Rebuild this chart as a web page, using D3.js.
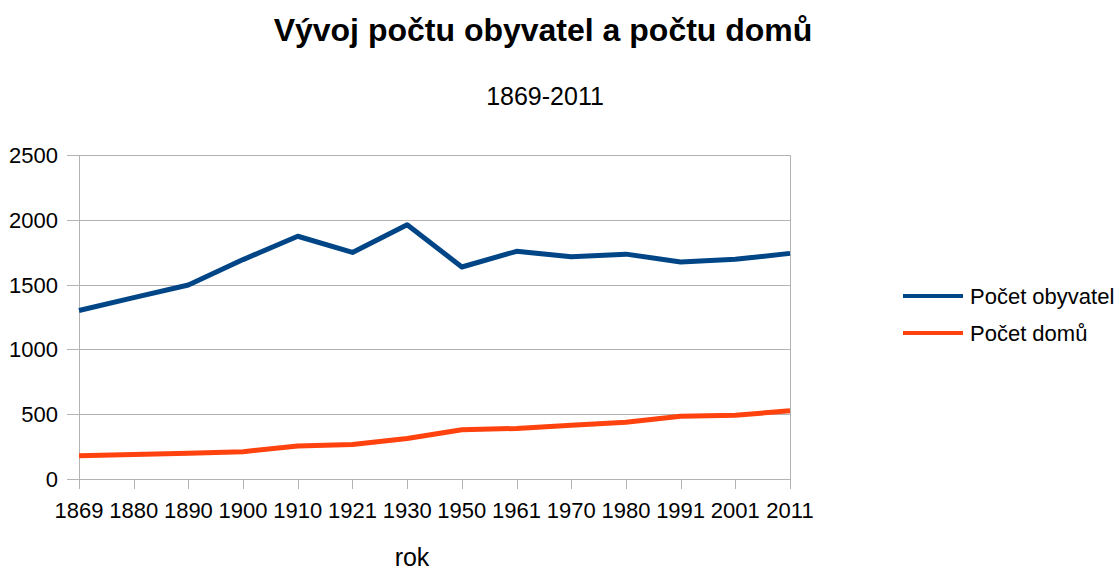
<!DOCTYPE html>
<html>
<head>
<meta charset="utf-8">
<script src="https://cdn.jsdelivr.net/npm/d3@7"></script>
<style>
  body { margin: 0; background: #fff; }
  text { font-family: "Liberation Sans", Arial, sans-serif; fill: #000; }
</style>
</head>
<body>
<div id="chart"></div>
<script>
// data
var years = ['1869', '1880', '1890', '1900', '1910', '1921', '1930', '1950', '1961', '1970', '1980', '1991', '2001', '2011'];
var obyvatel = [1300, 1400, 1497, 1693, 1873, 1748, 1962, 1636, 1757, 1715, 1735, 1675, 1695, 1741];
var domu = [180, 190, 198, 211, 254, 267, 313, 380, 390, 415, 438, 485, 492, 526];
var yTicks = [0, 500, 1000, 1500, 2000, 2500];
var seriesNames = ['Počet obyvatel', 'Počet domů'];
var colors = ['#004586', '#ff420e'];

var width = 1115, height = 572;
var plot = { left: 79, right: 790, top: 155, bottom: 479 };

var svg = d3.select('#chart').append('svg')
  .attr('width', width)
  .attr('height', height);

var x = d3.scalePoint().domain(years).range([plot.left, plot.right]);
var y = d3.scaleLinear().domain([0, 2500]).range([plot.bottom, plot.top]);

// grid lines
svg.append('g').selectAll('line')
  .data(yTicks)
  .enter().append('line')
  .attr('x1', plot.left - 12).attr('x2', plot.right)
  .attr('y1', function (d) { return Math.round(y(d)) + 0.5; })
  .attr('y2', function (d) { return Math.round(y(d)) + 0.5; })
  .attr('stroke', '#b3b3b3').attr('stroke-width', 1);

// x ticks (vertical small lines below axis)
svg.append('g').selectAll('line')
  .data(years)
  .enter().append('line')
  .attr('x1', function (d) { return Math.round(x(d)) + 0.5; })
  .attr('x2', function (d) { return Math.round(x(d)) + 0.5; })
  .attr('y1', plot.bottom).attr('y2', plot.bottom + 10)
  .attr('stroke', '#b3b3b3');

// plot area left/right borders
svg.append('line')
  .attr('x1', plot.left + 0.5).attr('x2', plot.left + 0.5)
  .attr('y1', plot.top).attr('y2', plot.bottom + 10)
  .attr('stroke', '#b3b3b3');
svg.append('line')
  .attr('x1', plot.right + 0.5).attr('x2', plot.right + 0.5)
  .attr('y1', plot.top).attr('y2', plot.bottom + 10)
  .attr('stroke', '#b3b3b3');

// y labels
svg.append('g').selectAll('text')
  .data(yTicks)
  .enter().append('text')
  .attr('x', plot.left - 21)
  .attr('y', function (d) { return y(d) + 8; })
  .attr('text-anchor', 'end')
  .style('font-size', '22px')
  .text(function (d) { return d; });

// x labels
svg.append('g').selectAll('text')
  .data(years)
  .enter().append('text')
  .attr('x', function (d) { return x(d); })
  .attr('y', plot.bottom + 39)
  .attr('text-anchor', 'middle')
  .style('font-size', '22px')
  .text(function (d) { return d; });

// lines
var line = d3.line()
  .x(function (d, i) { return x(years[i]); })
  .y(function (d) { return y(d); });

[obyvatel, domu].forEach(function (vals, i) {
  svg.append('path')
    .datum(vals)
    .attr('fill', 'none')
    .attr('stroke', colors[i])
    .attr('stroke-width', 5)
    .attr('stroke-linejoin', 'round')
    .attr('d', line);
});

// titles
svg.append('text')
  .attr('x', 543).attr('y', 41)
  .attr('text-anchor', 'middle')
  .style('font-size', '32px').style('font-weight', 'bold')
  .text('Vývoj počtu obyvatel a počtu domů');

svg.append('text')
  .attr('x', 545).attr('y', 105)
  .attr('text-anchor', 'middle')
  .style('font-size', '25px')
  .text('1869-2011');

svg.append('text')
  .attr('x', 412).attr('y', 566)
  .attr('text-anchor', 'middle')
  .style('font-size', '25px')
  .text('rok');

// legend
var legend = svg.append('g').selectAll('g')
  .data(seriesNames)
  .enter().append('g')
  .attr('transform', function (d, i) { return 'translate(903,' + (296 + i * 37) + ')'; });

legend.append('line')
  .attr('x1', 0).attr('x2', 60)
  .attr('stroke', function (d, i) { return colors[i]; })
  .attr('stroke-width', 4);

legend.append('text')
  .attr('x', 67).attr('y', 8)
  .style('font-size', '22px')
  .text(function (d) { return d; });
</script>
</body>
</html>
